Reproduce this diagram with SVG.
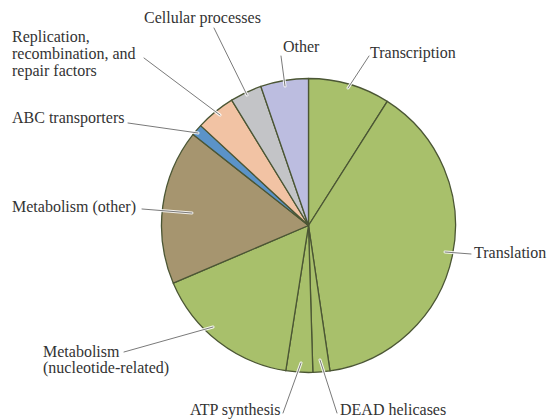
<svg xmlns="http://www.w3.org/2000/svg" width="549" height="419" viewBox="0 0 549 419">
<style>
.sl{stroke:#4b5634;stroke-width:1.3;stroke-linejoin:round}
.g{fill:#a8c06b}
.lbl{font-family:"Liberation Serif","Times New Roman",serif;font-size:16px;fill:#333333}
.halo{stroke:#ffffff;stroke-width:3;fill:none;stroke-linecap:round;opacity:0.85}
.ld{stroke:#7a7a7a;stroke-width:1;fill:none;stroke-linecap:round}
</style>
<rect width="549" height="419" fill="#ffffff"/>
<g id="pie">
<g id="transcription"><path class="sl g" d="M308.5 225.5 L308.5 78.5 A147 147 0 0 1 387.26 101.39 Z"/></g>
<g id="translation"><path class="sl g" d="M308.5 225.5 L387.26 101.39 A147 147 0 0 1 329.98 370.93 Z"/></g>
<g id="dead"><path class="sl g" d="M308.5 225.5 L329.98 370.93 A147 147 0 0 1 312.86 372.44 Z"/></g>
<g id="atp"><path class="sl g" d="M308.5 225.5 L312.86 372.44 A147 147 0 0 1 285.76 370.73 Z"/></g>
<g id="nucleotide"><path class="sl g" d="M308.5 225.5 L285.76 370.73 A147 147 0 0 1 173.29 283.17 Z"/></g>
<g id="metother"><path class="sl" fill="#a6956f" d="M308.5 225.5 L173.29 283.17 A147 147 0 0 1 193.08 134.46 Z"/></g>
<g id="abc"><path class="sl" fill="#5b93c8" d="M308.5 225.5 L193.08 134.46 A147 147 0 0 1 200.64 125.62 Z"/></g>
<g id="replication"><path class="sl" fill="#f2c3a4" d="M308.5 225.5 L200.64 125.62 A147 147 0 0 1 231.69 100.16 Z"/></g>
<g id="cellular"><path class="sl" fill="#c3c4c7" d="M308.5 225.5 L231.69 100.16 A147 147 0 0 1 260.88 86.42 Z"/></g>
<g id="other"><path class="sl" fill="#bcbde0" d="M308.5 225.5 L260.88 86.42 A147 147 0 0 1 308.5 78.5 Z"/></g>
</g>
<g id="connectors">
<path class="halo" d="M214 28 L247 95 M281 56 L285 86 M369 56 L348 88 M144 58 L220 115 M128 123 L198 133 M142 209 L192 213 M471 254 L445 252 M124 352 L213 327 M283 413 L301 363 M337 413 L320 360"/>
<path class="ld" d="M214 28 L247 95 M281 56 L285 86 M369 56 L348 88 M144 58 L220 115 M128 123 L198 133 M142 209 L192 213 M471 254 L445 252 M124 352 L213 327 M283 413 L301 363 M337 413 L320 360"/>
</g>
<g id="labels">
<text class="lbl" x="144" y="23">Cellular processes</text>
<text class="lbl" x="12" y="42">Replication,</text>
<text class="lbl" x="12" y="59">recombination, and</text>
<text class="lbl" x="12" y="76">repair factors</text>
<text class="lbl" x="283" y="52">Other</text>
<text class="lbl" x="370" y="58">Transcription</text>
<text class="lbl" x="12" y="123">ABC transporters</text>
<text class="lbl" x="12" y="212">Metabolism (other)</text>
<text class="lbl" x="474" y="258">Translation</text>
<text class="lbl" x="43" y="357">Metabolism</text>
<text class="lbl" x="43" y="373">(nucleotide-related)</text>
<text class="lbl" x="190" y="415">ATP synthesis</text>
<text class="lbl" x="340" y="415">DEAD helicases</text>
</g>
</svg>
